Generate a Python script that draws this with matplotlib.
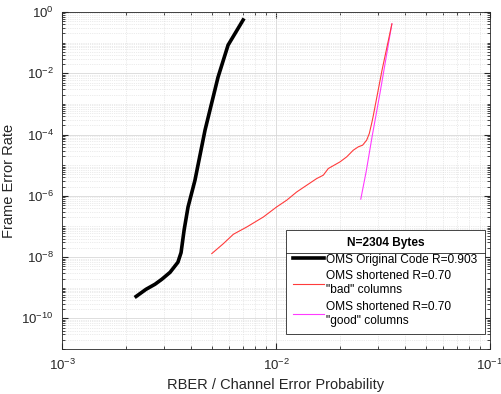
import matplotlib
matplotlib.use('Agg')
import matplotlib.pyplot as plt
from matplotlib.ticker import LogLocator, NullFormatter
from matplotlib.lines import Line2D

plt.rcParams['font.family'] = ['Liberation Sans', 'DejaVu Sans']

# OMS original code R=0.903
orig_x = [0.00222, 0.00247, 0.00272, 0.00293, 0.0032, 0.00348, 0.0036, 0.00372,
          0.00388, 0.00418, 0.00466, 0.00536, 0.00597, 0.00702]
orig_y = [5.2e-10, 8.9e-10, 1.3e-9, 1.9e-9, 3.2e-9, 6.8e-9, 1.4e-8, 7.6e-8,
          4.3e-7, 3.2e-6, 1.4e-4, 7.5e-3, 0.083, 0.55]

# OMS shortened, "bad" columns
bad_x = [0.00501, 0.00568, 0.00632, 0.0073, 0.00873, 0.01007, 0.01122, 0.0125,
         0.01392, 0.0155, 0.01663, 0.01756, 0.0199, 0.0214, 0.02297, 0.02425,
         0.0254, 0.02654, 0.0273, 0.02799, 0.0284, 0.0313, 0.0348]
bad_y = [1.3e-8, 2.76e-8, 5.56e-8, 9.6e-8, 2.04e-7, 4.34e-7, 7.2e-7, 1.34e-6,
         2.22e-6, 3.67e-6, 4.71e-6, 7.8e-6, 1.28e-5, 1.87e-5, 3.09e-5, 3.98e-5,
         4.5e-5, 6.6e-5, 1.09e-4, 2.3e-4, 3.7e-4, 0.0127, 0.41]

# OMS shortened, "good" columns
good_x = [0.0249, 0.0264, 0.0281, 0.0306, 0.0348]
good_y = [7.8e-7, 6.3e-6, 8.3e-5, 2.2e-3, 0.41]

fig = plt.figure(figsize=(5.01, 3.94), dpi=100)
ax = fig.add_axes([0.1238, 0.1142, 0.978 - 0.1238, 0.9695 - 0.1142])

l1, = ax.plot(orig_x, orig_y, color='black', lw=2.6, zorder=4,
              label='OMS Original Code R=0.903')
l2, = ax.plot(bad_x, bad_y, color='#ff3b3b', lw=0.8, zorder=3,
              label='OMS shortened R=0.70\n"bad" columns')
l3, = ax.plot(good_x, good_y, color='#ff3bff', lw=0.8, zorder=2,
              label='OMS shortened R=0.70\n"good" columns')

ax.set_xscale('log')
ax.set_yscale('log')
ax.set_xlim(1e-3, 1e-1)
ax.set_ylim(1e-11, 1)
ax.set_yticks([1e-10, 1e-8, 1e-6, 1e-4, 1e-2, 1])
ax.yaxis.set_minor_locator(LogLocator(base=10, subs=range(1, 10), numticks=100))
ax.yaxis.set_minor_formatter(NullFormatter())
ax.xaxis.set_minor_locator(LogLocator(base=10, subs=range(2, 10), numticks=100))
ax.xaxis.set_minor_formatter(NullFormatter())

ax.grid(True, which='major', color='#d8d8d8', lw=0.6, ls='-')
ax.grid(True, which='minor', color='#d8d8d8', lw=0.5, ls=':')
ax.set_axisbelow(True)
ax.tick_params(which='both', direction='in', top=True, right=True,
               colors='#262626', labelsize=9.5)
ax.tick_params(which='major', length=4, pad=6)
ax.tick_params(which='minor', length=2)
for s in ax.spines.values():
    s.set_color('#262626')
    s.set_linewidth(0.6)

ax.set_xlabel('RBER / Channel Error Probability', fontsize=10.5, color='#262626')
ax.set_ylabel('Frame Error Rate', fontsize=10.5, color='#262626')

leg = ax.legend(handles=[l1, l2, l3], loc='lower right',
                bbox_to_anchor=(0.988, 0.045), fontsize=8.6,
                title='N=2304 Bytes', title_fontproperties={'weight': 'bold', 'size': 8.6},
                fancybox=False, framealpha=1, edgecolor='#262626',
                handlelength=2.6, handletextpad=0.2, borderpad=0.6,
                labelspacing=0.4, borderaxespad=0)
leg.get_frame().set_linewidth(0.6)

fig.canvas.draw()
inv = fig.transFigure.inverted()
lb = leg.get_window_extent()
tb = leg.get_title().get_window_extent()
ysep = tb.y0 - 4
x0, y0 = inv.transform((lb.x0, ysep))
x1, _ = inv.transform((lb.x1, ysep))
fig.add_artist(Line2D([x0, x1], [y0, y0], color='#262626', lw=0.6,
                      transform=fig.transFigure, zorder=10))

fig.savefig('out.png', dpi=100)
